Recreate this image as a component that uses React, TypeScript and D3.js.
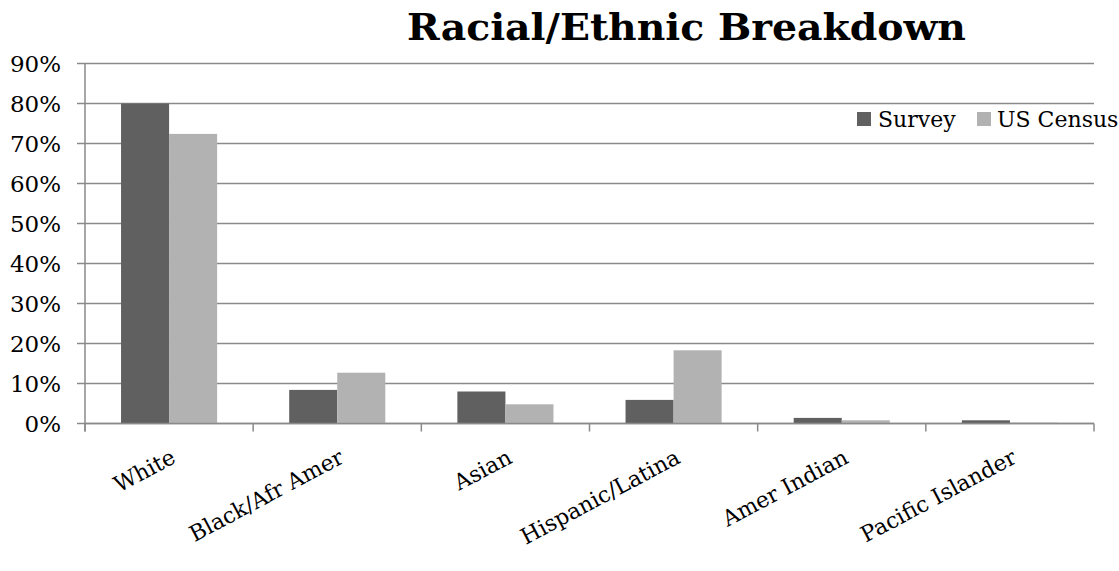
import React from "react";
import * as d3 from "d3";

const categories = ["White", "Black/Afr Amer", "Asian", "Hispanic/Latina", "Amer Indian", "Pacific Islander"];
const surveyValues = [0.80, 0.084, 0.080, 0.059, 0.014, 0.008];
const censusValues = [0.724, 0.127, 0.048, 0.183, 0.008, 0.002];
const seriesNames = ["Survey", "US Census"];
const yTicks = [0, 0.1, 0.2, 0.3, 0.4, 0.5, 0.6, 0.7, 0.8, 0.9];

const W = 1119, H = 571;
const plotLeft = 85, plotRight = 1094, plotTop = 63.5, plotBottom = 423.5;
const colors = ["#606060", "#b2b2b2"];
const font = "'DejaVu Serif', serif";

export default function App() {
  const x = d3.scaleBand<string>().domain(categories).range([plotLeft, plotRight]).paddingInner(0).paddingOuter(0);
  const y = d3.scaleLinear().domain([0, 0.9]).range([plotBottom, plotTop]);
  const bw = x.bandwidth();
  const barW = bw / 3.5;
  const off = barW * 0.75;
  const fmt = d3.format(".0%");
  const series = [surveyValues, censusValues];
  const boundaries = [...categories.map((c) => x(c)!), plotRight];

  return (
    <svg width={W} height={H} style={{ position: "absolute", left: 0, top: 0, background: "#fff" }}>
      <text x={407} y={40} fontFamily="'DejaVu Serif Condensed', 'DejaVu Serif', serif" fontWeight="bold" fontSize={37}
        textLength={559} lengthAdjust="spacingAndGlyphs">Racial/Ethnic Breakdown</text>
      {yTicks.map((t) => (
        <g key={t}>
          <line x1={plotLeft - 8} x2={plotRight} y1={y(t)} y2={y(t)} stroke="#8a8a8a" strokeWidth={1.5} />
          <text x={61} y={y(t)} dy="0.36em" textAnchor="end" fontFamily={font} fontSize={23} fill="#000">{fmt(t)}</text>
        </g>
      ))}
      <line x1={plotLeft} x2={plotLeft} y1={plotTop} y2={plotBottom + 8} stroke="#8a8a8a" strokeWidth={1.5} />
      {boundaries.map((b, i) => (
        <line key={i} x1={b} x2={b} y1={plotBottom} y2={plotBottom + 8} stroke="#8a8a8a" strokeWidth={1.5} />
      ))}
      {series.map((vals, si) =>
        categories.map((c, ci) => (
          <rect key={si + "-" + ci} x={x(c)! + off + si * barW} width={barW} y={y(vals[ci])}
            height={plotBottom - y(vals[ci])} fill={colors[si]} />
        ))
      )}
      <line x1={plotLeft} x2={plotRight} y1={plotBottom} y2={plotBottom} stroke="#8a8a8a" strokeWidth={1.5} />
      {categories.map((c) => {
        const cx = x(c)! + bw / 2 + 8;
        return (
          <text key={c} transform={`translate(${cx},462) rotate(-28)`} textAnchor="end" fontFamily={font} fontSize={22} fill="#000">{c}</text>
        );
      })}
      <rect x={857} y={112} width={14} height={14} fill={colors[0]} />
      <text x={878} y={127} fontFamily={font} fontSize={22} fill="#000">{seriesNames[0]}</text>
      <rect x={977} y={112} width={14} height={14} fill={colors[1]} />
      <text x={997} y={127} fontFamily={font} fontSize={22} fill="#000">{seriesNames[1]}</text>
    </svg>
  );
}
